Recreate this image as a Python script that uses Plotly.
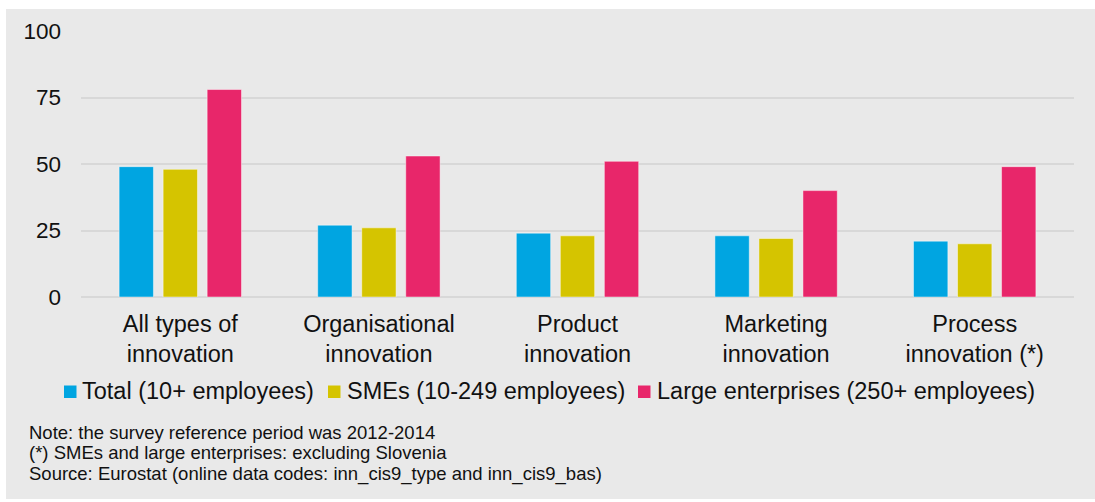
import plotly.graph_objects as go

# Innovation types and enterprise-size shares (% of enterprises)
categories = [
    "All types of<br>innovation",
    "Organisational<br>innovation",
    "Product<br>innovation",
    "Marketing<br>innovation",
    "Process<br>innovation (*)",
]
series_names = [
    "Total (10+ employees)",
    "SMEs (10-249 employees)",
    "Large enterprises (250+ employees)",
]
total_vals = [49, 27, 24, 23, 21]
sme_vals = [48, 26, 23, 22, 20]
large_vals = [78, 53, 51, 40, 49]
y_ticks = [0, 25, 50, 75, 100]

notes = [
    "Note: the survey reference period was 2012-2014",
    "(*) SMEs and large enterprises: excluding Slovenia",
    "Source: Eurostat (online data codes: inn_cis9_type and inn_cis9_bas)",
]

colors = ["#00A5E1", "#D5C400", "#E8266A"]
FONT = "Liberation Sans, Arial, sans-serif"
TXT = "#111111"

W, H = 1095, 502
L, R, T, B = 81, 21, 31, 205
PW, PH = W - L - R, H - T - B


def px_x(x):
    return (x - L) / PW


def px_y(y):
    return (H - B - y) / PH


fig = go.Figure()
for name, vals, col in zip(series_names, [total_vals, sme_vals, large_vals], colors):
    fig.add_trace(go.Bar(
        x=categories, y=vals, name=name,
        marker=dict(color=col, line=dict(color="rgba(255,255,255,0.45)", width=1)),
        showlegend=False,
    ))

shapes = [
    # grey panel behind the whole chart
    dict(type="rect", xref="paper", yref="paper",
         x0=px_x(6), x1=px_x(W + 2), y0=px_y(499), y1=px_y(9),
         fillcolor="#E9E9E9", line=dict(width=0), layer="below"),
]
annotations = []

# legend row: small squares followed by labels
legend_items = [(64, 81), (328, 346), (638, 656)]
for (sq_x, tx_x), name, col in zip(legend_items, series_names, colors):
    shapes.append(dict(type="rect", xref="paper", yref="paper",
                       x0=px_x(sq_x), x1=px_x(sq_x + 12.5),
                       y0=px_y(398), y1=px_y(385.5),
                       fillcolor=col, line=dict(width=0)))
    annotations.append(dict(xref="paper", yref="paper", x=px_x(tx_x), y=px_y(391),
                            text=name, showarrow=False, xanchor="left", yanchor="middle",
                            borderpad=0, font=dict(family=FONT, size=23.5, color=TXT)))

# footnotes
for i, line in enumerate(notes):
    annotations.append(dict(xref="paper", yref="paper", x=px_x(28), y=px_y(432 + i * 21),
                            text=line, showarrow=False, xanchor="left", yanchor="middle",
                            borderpad=0, font=dict(family=FONT, size=18.5, color=TXT)))

fig.update_layout(
    width=W, height=H,
    margin=dict(l=L, r=R, t=T, b=B, autoexpand=False),
    paper_bgcolor="white",
    plot_bgcolor="rgba(0,0,0,0)",
    barmode="group",
    bargap=0.335,
    bargroupgap=0.22,
    font=dict(family=FONT, color=TXT),
    shapes=shapes,
    annotations=annotations,
    showlegend=False,
)
fig.update_xaxes(
    tickfont=dict(family=FONT, size=23.5, color=TXT),
    showgrid=False, showline=False, ticks="", ticklabelstandoff=10,
)
fig.update_yaxes(
    range=[0, 100], tickvals=y_ticks,
    tickfont=dict(family=FONT, size=22.5, color=TXT),
    showgrid=True, gridcolor="#D8D8D8", gridwidth=2,
    zeroline=True, zerolinecolor="#D8D8D8", zerolinewidth=2,
    showline=False, ticks="", ticklabelstandoff=19,
)

fig.write_html("out.html")
